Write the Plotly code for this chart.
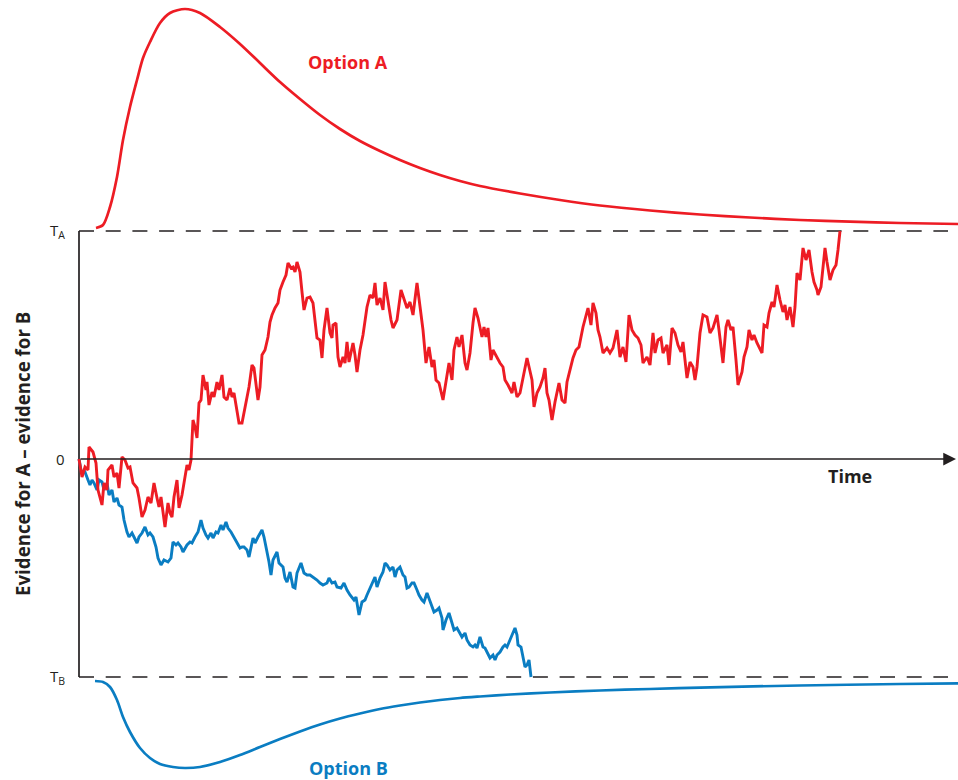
import plotly.graph_objects as go

# Decision thresholds (evidence units)
threshold_a = 228
threshold_b = -218

# Sample path that terminates at threshold A (time, accumulated evidence)
red_time = [0, 3, 6, 9, 10, 14, 17, 19, 23, 25, 28, 29, 33, 35, 38, 40, 43, 46, 49, 51,
            54, 58, 60, 63, 66, 69, 72, 75, 78, 80, 82, 84, 86, 89, 91, 93, 95, 98, 100, 103,
            105, 108, 110, 112, 114, 116, 118, 120, 122, 124, 127, 128, 130, 133, 135, 138, 140, 143, 145, 148,
            151, 153, 155, 158, 160, 163, 165, 168, 170, 173, 175, 179, 181, 183, 186, 189, 191, 193, 196, 199,
            201, 204, 207, 209, 212, 214, 216, 218, 221, 223, 225, 228, 231, 234, 236, 238, 241, 243, 245, 248,
            251, 253, 254, 257, 259, 261, 264, 266, 268, 270, 274, 276, 278, 281, 284, 286, 288, 291, 294, 296,
            298, 301, 304, 306, 308, 312, 314, 318, 322, 325, 328, 331, 334, 338, 340, 344, 347, 350, 353, 355,
            357, 360, 364, 367, 370, 373, 375, 378, 380, 383, 386, 388, 391, 394, 396, 399, 403, 405, 407, 409,
            412, 414, 418, 421, 424, 426, 429, 433, 435, 438, 441, 444, 446, 448, 450, 453, 455, 458, 461, 464,
            466, 468, 470, 473, 476, 478, 480, 483, 486, 488, 490, 494, 497, 500, 504, 507, 509, 512, 514, 517,
            519, 521, 524, 528, 531, 534, 538, 541, 544, 547, 550, 553, 556, 559, 562, 564, 568, 571, 574, 576,
            579, 582, 584, 588, 590, 593, 596, 599, 602, 604, 608, 611, 614, 616, 618, 621, 624, 628, 631, 634,
            638, 640, 644, 647, 649, 652, 654, 657, 659, 663, 665, 668, 670, 673, 675, 678, 680, 683, 685, 688,
            690, 693, 695, 698, 701, 704, 706, 708, 711, 714, 716, 718, 721, 724, 727, 730, 733, 735, 738, 739,
            742, 744, 746, 748, 751, 754, 757, 759, 761]
red_evidence = [0, -18, -8, -11, 12, 7, -4, -31, -46, -24, -31, -11, -6, -18, -14, -29, 2, -1, -9, -8,
                -24, -29, -39, -58, -51, -38, -44, -24, -39, -48, -38, -54, -68, -44, -54, -58, -38, -21, -49, -36,
                -24, -6, -11, -1, 39, 32, 21, 56, 59, 84, 69, 77, 54, 67, 62, 77, 69, 84, 62, 59,
                71, 62, 66, 49, 36, 36, 46, 59, 72, 94, 91, 59, 72, 104, 109, 122, 137, 144, 151, 156,
                169, 177, 184, 196, 191, 192, 187, 197, 187, 167, 149, 161, 162, 156, 136, 121, 119, 101, 129, 151,
                126, 121, 134, 136, 102, 92, 102, 96, 117, 97, 116, 104, 87, 109, 124, 136, 152, 164, 161, 176,
                154, 161, 149, 177, 164, 139, 131, 139, 169, 159, 151, 157, 144, 176, 162, 129, 96, 112, 92, 99,
                79, 76, 59, 79, 96, 79, 109, 122, 112, 124, 96, 89, 106, 136, 151, 141, 122, 132, 122, 131,
                99, 109, 101, 96, 92, 79, 74, 66, 77, 62, 66, 79, 91, 101, 91, 79, 52, 66, 72, 81,
                91, 66, 59, 39, 57, 66, 76, 59, 56, 77, 86, 101, 109, 112, 132, 142, 151, 134, 156, 146,
                129, 122, 106, 111, 106, 111, 129, 102, 112, 97, 144, 129, 124, 121, 114, 96, 102, 94, 126, 106,
                119, 121, 106, 114, 94, 131, 126, 114, 107, 117, 81, 97, 92, 79, 92, 126, 144, 142, 126, 131,
                144, 129, 96, 132, 139, 129, 132, 99, 74, 87, 102, 112, 129, 119, 124, 116, 112, 106, 134, 132,
                146, 157, 152, 174, 159, 147, 154, 139, 152, 132, 152, 186, 179, 211, 199, 209, 187, 177, 169, 164,
                172, 196, 211, 197, 179, 189, 194, 209, 228]

# Sample path that terminates at threshold B
blue_time = [0, 2, 4, 6, 9, 11, 13, 15, 18, 20, 23, 25, 28, 30, 33, 35, 38, 40, 43, 45,
             48, 50, 53, 55, 58, 60, 63, 66, 69, 71, 74, 77, 79, 82, 85, 89, 92, 94, 97, 99,
             102, 104, 108, 111, 113, 116, 119, 122, 124, 127, 129, 132, 134, 137, 139, 142, 144, 147, 149, 152,
             155, 158, 161, 163, 165, 168, 170, 174, 176, 179, 183, 185, 188, 190, 192, 194, 198, 200, 204, 206,
             208, 211, 214, 216, 218, 222, 225, 228, 231, 234, 238, 241, 244, 248, 250, 253, 256, 258, 262, 265,
             268, 271, 275, 277, 280, 283, 286, 288, 291, 294, 296, 298, 301, 304, 306, 308, 311, 314, 316, 318,
             321, 324, 326, 328, 330, 333, 335, 338, 340, 343, 345, 348, 350, 353, 355, 358, 360, 363, 364, 367,
             370, 373, 375, 378, 380, 383, 386, 388, 391, 394, 396, 398, 401, 404, 406, 408, 411, 414, 416, 418,
             421, 424, 426, 428, 431, 434, 436, 438, 439, 442, 444, 446, 448, 450, 452]
blue_evidence = [0, -11, -14, -13, -21, -26, -21, -24, -31, -21, -23, -31, -24, -36, -31, -43, -39, -46, -48, -61,
                 -73, -78, -74, -78, -84, -78, -74, -68, -76, -74, -78, -88, -99, -106, -101, -103, -99, -83, -86, -84,
                 -88, -93, -86, -83, -84, -78, -73, -61, -69, -76, -79, -74, -79, -73, -74, -66, -71, -63, -69, -73,
                 -78, -84, -89, -88, -88, -91, -98, -79, -84, -78, -71, -78, -91, -103, -116, -101, -93, -104, -108, -119,
                 -123, -113, -128, -129, -114, -104, -114, -116, -116, -118, -121, -124, -126, -124, -119, -124, -123, -128, -129, -124,
                 -131, -136, -141, -138, -156, -143, -141, -136, -129, -121, -118, -128, -119, -113, -104, -106, -111, -108, -118, -111,
                 -108, -116, -118, -129, -128, -124, -124, -131, -136, -141, -143, -134, -139, -148, -153, -151, -149, -159, -171, -161,
                 -154, -164, -171, -169, -173, -178, -174, -181, -186, -188, -186, -189, -178, -188, -189, -193, -199, -196, -201, -196,
                 -193, -188, -186, -188, -181, -174, -169, -176, -186, -188, -199, -208, -206, -201, -218]

# Response-time densities for each option (height beyond its threshold)
dist_time = [17, 24, 31, 38, 44, 51, 58, 64, 71, 81, 91, 106, 121, 141, 161, 181, 201, 221, 241, 261,
             281, 301, 321, 341, 361, 381, 401, 441, 481, 521, 571, 621, 671, 721, 771, 821, 879]
density_a = [3, 6, 24, 54, 91, 124, 151, 173, 189, 208, 218, 222, 218, 204, 187, 168, 149, 132, 116, 102,
             90, 80, 71, 63, 56, 50, 45, 37.5, 31, 25.5, 20.5, 16.5, 13.5, 11, 9.3, 8, 7]
dist_time_b = [16, 24, 31, 38, 44, 51, 61, 71, 81, 94, 106, 121, 141, 161, 181, 201, 221, 241, 261, 281,
               301, 321, 341, 361, 381, 401, 431, 471, 521, 571, 621, 721, 821, 879]
density_b = [4, 5, 10, 23, 40, 55, 71, 81, 87, 90, 91, 90, 85, 78, 70, 62, 54.5, 47.5, 41.5, 36.5,
             32, 28.5, 25.5, 23, 21, 19.5, 17.5, 15.5, 13.5, 12, 10.6, 8.5, 7, 6.3]

RED = "#ED1C24"
BLUE = "#0A7DC2"
INK = "#231F20"
axis_end = 869

fig = go.Figure()

fig.add_trace(go.Scatter(x=dist_time, y=[threshold_a + d for d in density_a], mode="lines",
                         line=dict(color=RED, width=2.7, shape="spline", smoothing=0.8), hoverinfo="skip"))
fig.add_trace(go.Scatter(x=dist_time_b, y=[threshold_b - d for d in density_b], mode="lines",
                         line=dict(color=BLUE, width=2.7, shape="spline", smoothing=0.8), hoverinfo="skip"))
fig.add_trace(go.Scatter(x=blue_time, y=blue_evidence, mode="lines",
                         line=dict(color=BLUE, width=2.9), hoverinfo="skip"))
fig.add_trace(go.Scatter(x=red_time, y=red_evidence, mode="lines",
                         line=dict(color=RED, width=2.9), hoverinfo="skip"))

# Threshold lines and evidence axis
for level in (threshold_a, threshold_b):
    fig.add_shape(type="line", x0=0, x1=axis_end, y0=level, y1=level,
                  line=dict(color=INK, width=1.4, dash="15px,11.7px"), layer="below")
fig.add_shape(type="line", x0=0, x1=0, y0=threshold_b, y1=threshold_a,
              line=dict(color=INK, width=1.7), layer="below")

# Time axis with arrow
fig.add_annotation(x=877, y=0, ax=0, ay=0, axref="x", ayref="y", xref="x", yref="y",
                   text="", showarrow=True, arrowhead=2, arrowsize=1.5, arrowwidth=1.7,
                   arrowcolor=INK)

label_font = dict(family="Open Sans", size=15, color=INK)
fig.add_annotation(x=-12, y=threshold_a, text="T<sub>A</sub>", showarrow=False,
                   xanchor="right", yanchor="middle", font=label_font)
fig.add_annotation(x=-12, y=0, text="0", showarrow=False,
                   xanchor="right", yanchor="middle", font=label_font)
fig.add_annotation(x=-12, y=threshold_b, text="T<sub>B</sub>", showarrow=False,
                   xanchor="right", yanchor="middle", font=label_font)

fig.add_annotation(x=-57, y=5, text="<b>Evidence for A – evidence for B</b>", showarrow=False,
                   textangle=-90, xanchor="center", yanchor="middle",
                   font=dict(family="Open Sans", size=18.7, color=INK))
fig.add_annotation(x=771, y=-17, text="<b>Time</b>", showarrow=False,
                   xanchor="center", yanchor="middle", font=dict(family="Open Sans", size=18, color=INK))
fig.add_annotation(x=269, y=397, text="<b>Option A</b>", showarrow=False,
                   xanchor="center", yanchor="middle", font=dict(family="Open Sans", size=18, color=RED))
fig.add_annotation(x=269, y=-309, text="<b>Option B</b>", showarrow=False,
                   xanchor="center", yanchor="middle", font=dict(family="Open Sans", size=18, color=BLUE))

fig.update_layout(
    width=958, height=780,
    margin=dict(l=0, r=0, t=0, b=0),
    paper_bgcolor="white", plot_bgcolor="white",
    showlegend=False,
    xaxis=dict(range=[-79, 879], visible=False, fixedrange=True),
    yaxis=dict(range=[-321, 459], visible=False, fixedrange=True),
)

fig.write_html("out.html")
